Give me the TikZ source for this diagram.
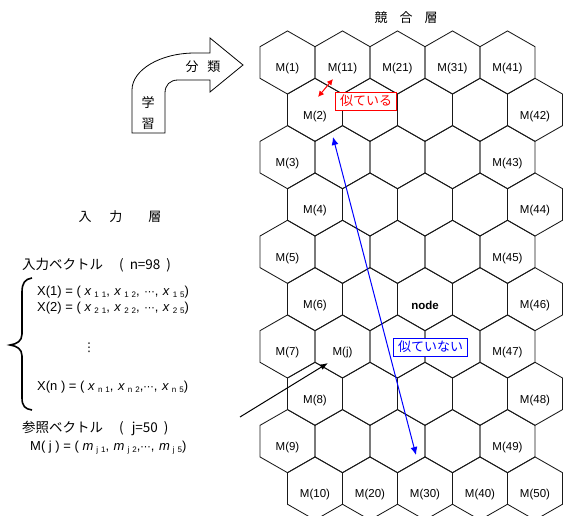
\documentclass[tikz,border=0pt]{standalone}
\usepackage{fontspec}
\setmainfont{Liberation Sans}
\newfontfamily\jpfont{Noto Sans CJK JP}
\newfontfamily\symfont{DejaVu Sans}
\usetikzlibrary{arrows.meta}
\newcommand{\vx}[3]{\textit{#1}\hspace{3pt}{\fontsize{8}{9}\selectfont\raisebox{-2pt}{#2\hspace{3pt}#3}}}
\newcommand{\cm}{,\hspace{4.5pt}}
\newcommand{\dts}{{\symfont\fontsize{10.5}{11}\selectfont ⋯}}
\begin{document}
\begin{tikzpicture}[x=1pt,y=-1pt,
  hexline/.style={draw=black!90, line width=0.85pt},
  lbl/.style={font=\fontsize{11.5}{13}\selectfont, inner sep=0pt},
  jp/.style={font=\jpfont\fontsize{13}{15}\selectfont, inner sep=0pt},
  txt/.style={font=\fontsize{13}{14}\selectfont, inner sep=0pt, anchor=west},
  jptxt/.style={font=\jpfont\fontsize{13.5}{15}\selectfont, inner sep=0pt, anchor=west},
  simbox/.style={font=\jpfont\fontsize{13}{15}\selectfont, fill=white, line width=0.8pt, inner xsep=4.5pt, inner ysep=0pt, minimum height=18pt},
  tip/.style={line width=1pt},
  bigarrow/.style={draw=black, line width=0.8pt, fill=white, line join=miter}
]
\useasboundingbox (0,0) rectangle (563,516);

% hexagon grid
\begin{scope}
\clip (0,0) rectangle (563,516);
\foreach \r in {1,...,10}{
  \pgfmathsetmacro{\cy}{62.5+(\r-1)*47.33}
  \pgfmathsetmacro{\off}{ifthenelse(mod(\r,2)==1,287.5,315)}
  \foreach \c in {0,...,4}{
    \pgfmathsetmacro{\cx}{\off+55*\c}
    \draw[hexline] (\cx,\cy-31.55) -- (\cx+27.5,\cy-15.8) -- (\cx+27.5,\cy+15.8)
      -- (\cx,\cy+31.55) -- (\cx-27.5,\cy+15.8) -- (\cx-27.5,\cy-15.8) -- cycle;
  }
}
\end{scope}

% hexagon labels
\node[lbl] (m1)  at (287.5,69) {M(1)};
\node[lbl] (m11) at (342.5,69) {M(11)};
\node[lbl] (m21) at (397.5,69) {M(21)};
\node[lbl] (m31) at (452.5,69) {M(31)};
\node[lbl] (m41) at (507.5,69) {M(41)};
\node[lbl] (m2)  at (315,116.3) {M(2)};
\node[lbl] (m42) at (535,116.3) {M(42)};
\node[lbl] (m3)  at (287.5,163.7) {M(3)};
\node[lbl] (m43) at (507.5,163.7) {M(43)};
\node[lbl] (m4)  at (315,211) {M(4)};
\node[lbl] (m44) at (535,211) {M(44)};
\node[lbl] (m5)  at (287.5,258.3) {M(5)};
\node[lbl] (m45) at (507.5,258.3) {M(45)};
\node[lbl] (m6)  at (315,305.7) {M(6)};
\node[lbl,font=\fontsize{11.5}{13}\selectfont\bfseries] (nodelbl) at (425,305.7) {node};
\node[lbl] (m46) at (535,305.7) {M(46)};
\node[lbl] (m7)  at (287.5,353) {M(7)};
\node[lbl] (mj)  at (342.5,353) {M(j)};
\node[lbl] (m47) at (507.5,353) {M(47)};
\node[lbl] (m8)  at (315,400.3) {M(8)};
\node[lbl] (m48) at (535,400.3) {M(48)};
\node[lbl] (m9)  at (287.5,447.7) {M(9)};
\node[lbl] (m49) at (507.5,447.7) {M(49)};
\node[lbl] (m10) at (315,495) {M(10)};
\node[lbl] (m20) at (370,495) {M(20)};
\node[lbl] (m30) at (425,495) {M(30)};
\node[lbl] (m40) at (480,495) {M(40)};
\node[lbl] (m50) at (535,495) {M(50)};

% titles
\node[jp] (comp) at (406,18) {競\hspace{12pt}合\hspace{12pt}層};
\node[jp] (inlayer) at (120,217) {入\hspace{18pt}力\hspace{26pt}層};

% similarity arrows
\coordinate (ra) at (318,97);
\coordinate (rb) at (333,79);
\draw[tip, red, {Latex[length=6pt,width=6pt]}-{Latex[length=6pt,width=6pt]}] (ra) -- (rb);
\node[simbox, draw=red, text=red] (similar) at (366,101) {似ている};

\coordinate (ba) at (333,137);
\coordinate (bb) at (416,455);
\draw[tip, blue, {Latex[length=8pt,width=7pt]}-{Latex[length=8pt,width=7pt]}] (ba) -- (bb);
\node[simbox, draw=blue, text=blue] (dissimilar) at (430.5,347) {似ていない};

% pointer to M(j)
\coordinate (ptr) at (240,417);
\coordinate (ptrend) at (328,363);
\draw[line width=1pt, -{Latex[length=8pt,width=6pt]}] (ptr) -- (ptrend);

% curved learning/classification arrow
\draw[bigarrow] (132,133) -- (132,90) .. controls (132,70) and (160,53) .. (195,53)
  -- (210,53) -- (210,38) -- (243,65) -- (210,92) -- (210,80) -- (178,80)
  .. controls (170,80) and (165,85) .. (165,93) -- (165,133) -- cycle;
\node[jp] (bunrui) at (203,67) {分\hspace{9pt}類};
\node[jp] (gaku) at (148,103) {学};
\node[jp] (shu) at (148,124) {習};

% input vectors
\node[jptxt] (invec) at (22,265) {入力ベクトル\hspace{16pt}(\hspace{6pt}n=98\hspace{6pt})};
\draw[line width=1.6pt] (32,278) .. controls (25,279) and (22,283) .. (22,292)
  -- (22,334) .. controls (22,341) and (17,344) .. (10,345)
  .. controls (17,346) and (22,349) .. (22,356)
  -- (22,398) .. controls (22,406) and (25,409) .. (32,410);
\node[txt] (x1) at (37,292) {X(1) = ( \vx{x}{1}{1}\cm\vx{x}{1}{2}\cm\dts\cm\vx{x}{1}{5})};
\node[txt] (x2) at (37,308) {X(2) = ( \vx{x}{2}{1}\cm\vx{x}{2}{2}\cm\dts\cm\vx{x}{2}{5})};
\node[inner sep=0pt, font=\symfont\fontsize{12}{13}\selectfont] (vdots) at (89,348) {⋮};
\node[txt] (xn) at (37,387) {X(n ) = ( \vx{x}{n}{1}\cm\vx{x}{n}{2},\dts\cm\vx{x}{n}{5})};
\node[jptxt] (refvec) at (22,428) {参照ベクトル\hspace{16pt}(\hspace{8pt}j=50\hspace{6pt})};
\node[txt] (mjvec) at (30,448) {M( j ) = ( \vx{m}{j}{1}\cm\vx{m}{j}{2},\dts\cm\vx{m}{j}{5})};
\end{tikzpicture}
\end{document}
